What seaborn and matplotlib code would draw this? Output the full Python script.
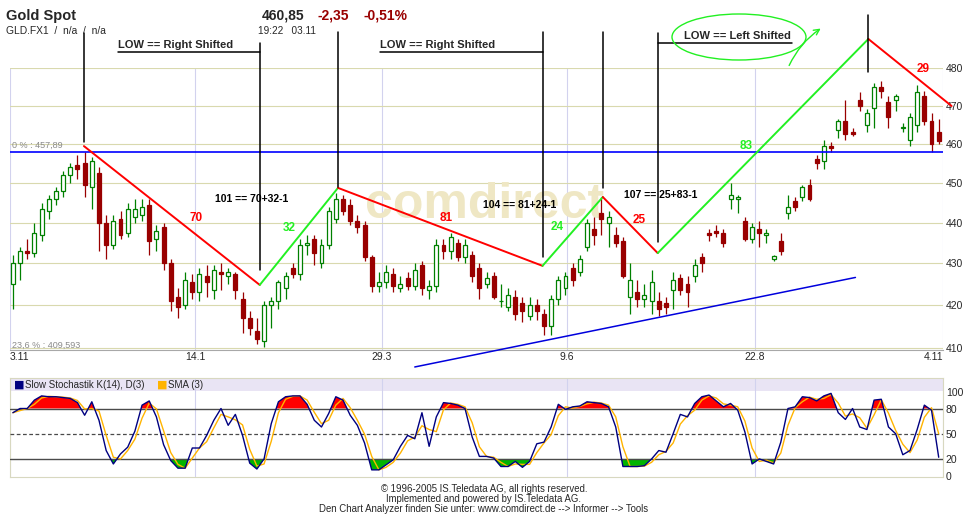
import numpy as np
import pandas as pd
import seaborn as sns
import matplotlib.pyplot as plt
from matplotlib.patches import Ellipse
from matplotlib.ticker import FixedLocator, FixedFormatter, NullLocator

sns.set_style("white")
plt.rcParams['font.family'] = ['Liberation Sans', 'DejaVu Sans']

# Gold Spot (GLD.FX1), 3.11.2004 - 4.11.2005, one candle ~ two trading days
opens = [425, 430, 433, 432.5, 437, 443, 446, 448, 452, 454.5,
         455, 449, 452.5, 440, 434.5, 441, 437.5, 441.5, 442, 444.5,
         436, 439, 430, 422, 420, 425.5, 423, 427, 423.5, 428,
         427, 427.5, 421.5, 417, 414, 411.5, 420, 421, 424, 429,
         427.5, 434.5, 436, 430, 434.5, 441, 446, 444.5, 440.5, 439.5,
         431.5, 424.5, 425.5, 427.5, 424, 426.5, 424.5, 429.5, 423.5, 424.5,
         434.5, 433, 435, 431.5, 432, 429, 425, 427, 421, 419.5,
         422, 420.5, 417.5, 420, 418, 415, 421.5, 424, 429, 428,
         434, 438.5, 442.5, 440, 437, 435.5, 422, 423, 421.5, 421,
         421, 420.5, 423.5, 426.5, 425, 427, 431.5, 437.5, 438, 437.5,
         446, 446, 440.5, 436, 438.5, 437, 431, 435.5, 442.5, 445.5,
         446.5, 449.5, 456, 455.5, 459.5, 463.5, 466, 463, 471.5, 465,
         469.5, 475, 471, 471.5, 464, 461, 465, 472.5, 466, 463]
highs = [432, 434, 436, 440, 445, 447, 449, 453, 455, 457,
         458, 456.5, 454, 442, 442, 443, 445, 446, 446, 446,
         439.5, 440, 431, 424, 428, 427.5, 429, 429.5, 429.5, 430,
         429, 428, 423, 418.5, 417, 421, 422, 426, 428, 430,
         436, 437, 437, 436, 444, 447.5, 447, 446, 442, 440.5,
         432, 428, 429.5, 429, 427, 428, 430, 430.5, 426, 436,
         436, 437.5, 436, 436, 433, 430, 428, 428, 425, 424,
         423.5, 422, 422, 421.5, 419, 422.5, 427, 428, 430, 432,
         441, 441.5, 446.5, 443, 439, 436.5, 430, 426, 425, 428.5,
         423, 422, 428, 427.5, 427, 431, 432.5, 438.5, 439.5, 438.5,
         450, 447, 441.5, 440, 440.5, 438.5, 432, 437.5, 447, 446.5,
         449.5, 451, 457, 461, 460.5, 466.5, 471.5, 464, 473.5, 469,
         476, 476.5, 472.5, 473, 465.5, 468, 475.5, 474, 468, 466.5]
lows = [419, 426, 431, 431.5, 435.5, 441, 444.5, 446.5, 450, 451,
        446.5, 443.5, 433, 431, 433.5, 436, 436.5, 440, 440.5, 432,
        433, 428.5, 418.5, 417, 419, 421.5, 421, 422, 421.5, 423.5,
        425, 421.5, 413.5, 413, 411, 410.2, 414.5, 419, 421.5, 426.5,
        426, 432, 429.5, 429, 433.5, 440, 442, 439.5, 437.5, 430.5,
        423, 423, 424, 423, 423, 423.5, 423.5, 422.5, 421.5, 423,
        431, 431, 430.5, 430, 425.5, 421.5, 424, 421.5, 419.5, 418.5,
        416.5, 416, 416.5, 416.5, 413, 413, 420, 422.5, 424.5, 427,
        433, 434.5, 437, 434, 434, 426.5, 418, 419.5, 419.5, 418,
        417.5, 418, 419, 422.5, 419.5, 425.5, 428, 435.5, 436.5, 434,
        443.5, 442.5, 435.5, 435, 434, 435, 430.5, 432, 441, 443,
        445.5, 445.5, 453.5, 453.5, 458, 461.5, 461, 462, 468.5, 463,
        464, 472, 464, 468.5, 463, 459.5, 463, 465, 458, 460]
closes = [430, 433, 432.5, 437.5, 443.5, 446, 448, 452, 454, 453.5,
          449.5, 455.5, 440, 434.5, 440.5, 437, 443.5, 443.5, 444, 435.5,
          438, 430, 421, 419.5, 426, 423, 427.5, 425.5, 428.5, 427.5,
          428, 423.5, 417, 414.5, 412, 420, 421, 425.5, 427, 427.5,
          434.5, 435, 432.5, 434.5, 443, 446, 443, 440.5, 439, 431.5,
          424.5, 425.5, 428, 424.5, 425, 424.5, 428.5, 424, 424.5, 434.5,
          433, 436.5, 431.5, 434.5, 427, 424, 426.5, 422, 421, 422.5,
          418, 418.5, 420, 418.5, 415, 421.5, 426, 427, 426, 431,
          440, 437, 441, 441.5, 435, 427, 426, 421.5, 422.5, 425.5,
          419, 419.5, 426, 423.5, 423, 429.5, 430, 437, 437.5, 435,
          447, 446.5, 436, 439, 437.5, 437.5, 431.8, 433, 444, 444,
          449, 446, 455, 459.5, 459, 466, 462.5, 462.5, 470, 468,
          475, 474, 467, 472.5, 464.5, 467, 473.5, 466, 460, 460.85]

# Slow Stochastik K(14)
stoch_k = [75, 80, 80, 90, 95, 94, 94, 93, 92, 87,
           72, 88, 66, 30, 14, 26, 34, 53, 84, 89,
           70, 37, 18, 9, 9, 33, 33, 48, 66, 80,
           60, 73, 48, 15, 8, 20, 62, 88, 94, 95,
           95, 85, 66, 58, 74, 94, 90, 72, 60, 39,
           7, 7, 13, 19, 35, 48, 44, 75, 35, 70,
           87, 86, 84, 80, 46, 23, 23, 21, 11, 11,
           17, 10, 17, 38, 40, 58, 85, 79, 82, 83,
           88, 87, 86, 82, 58, 11, 11, 11, 12, 20,
           30, 28, 50, 73, 70, 86, 94, 96, 89, 82,
           86, 78, 52, 14, 20, 17, 14, 40, 80, 82,
           94, 93, 89, 95, 98, 75, 67, 80, 58, 55,
           90, 91, 58, 50, 25, 30, 55, 84, 78, 22]

date_ticks = [-0.4, 25.4, 51.4, 77.2, 103.4, 129.6]
date_labels = ['3.11', '14.1', '29.3', '9.6', '22.8', '4.11']
price_ticks = [410, 420, 430, 440, 450, 460, 470, 480]
stoch_ticks = [0, 20, 50, 80, 100]

fib_0 = 457.89
fib_236 = 409.593

# hand drawn swing analysis: pivots (candle index, price) and swing lengths
pivot_x = [9.9, 34.4, 45.3, 73.8, 82.2, 89.85, 119.2, 130.8]
pivot_p = [459.4, 424.8, 448.7, 429.4, 446.4, 432.5, 488.0, 469.9]
swing_len = [70, 32, 81, 24, 25, 83, 29]
marker_top = [489.6, 486.9, 489.9, 489.9, 489.9, 489.6, 494.6]
marker_bottom = [460.5, 428.4, 448.9, 431.6, 448.7, 435.2, 479.0]

# support trendline
trend_x = [56.0, 117.4]
trend_p = [405.6, 426.6]

RED = '#ff0000'
LIME = '#22f022'
UP = '#008000'
DOWN = '#990000'


def fx(px):
    return px / 968


def fy(py):
    return 1 - py / 515


fig = plt.figure(figsize=(9.68, 5.15), dpi=100)
ax1 = fig.add_axes([fx(10), fy(350), 933 / 968, 281.7 / 515])
ax2 = fig.add_axes([fx(10), fy(477), 933 / 968, 99 / 515])

x = np.arange(len(closes))
o = np.array(opens, dtype=float)
h = np.array(highs, dtype=float)
l = np.array(lows, dtype=float)
c = np.array(closes, dtype=float)
up = c >= o

# --- price panel ---
ax1.set_yscale('log')
ax1.set_xlim(-0.4, 129.6)
ax1.set_ylim(409.5, 480)

ax1.text(65.7, 444.4, 'comdirect', fontsize=36, fontweight='bold',
         color='#efe7c4', ha='center', va='center', zorder=1)

ax1.vlines(x[up], l[up], h[up], color=UP, lw=0.9, zorder=3)
ax1.vlines(x[~up], l[~up], h[~up], color=DOWN, lw=0.9, zorder=3)
ax1.bar(x[up], c[up] - o[up], bottom=o[up], width=0.55, facecolor='white',
        edgecolor=UP, lw=0.9, zorder=4)
ax1.bar(x[~up], o[~up] - c[~up], bottom=c[~up], width=0.55, facecolor=DOWN,
        edgecolor=DOWN, lw=0.9, zorder=4)

ax1.axhline(fib_0, color='#0000ff', lw=1.2, zorder=5)
ax1.text(0.002, fib_0 + 0.6, '0 % : 457,89', transform=ax1.get_yaxis_transform(),
         fontsize=6.5, color='#8a8a8a', va='bottom', ha='left')
ax1.text(0.002, fib_236, '23,6 % : 409,593', transform=ax1.get_yaxis_transform(),
         fontsize=6.5, color='#8a8a8a', va='bottom', ha='left')

ax1.plot(trend_x, trend_p, color='#0000dd', lw=1.1, clip_on=False, zorder=5)

# zigzag swings
for k in range(len(pivot_x) - 1):
    col = RED if k % 2 == 0 else LIME
    ax1.plot(pivot_x[k:k + 2], pivot_p[k:k + 2], color=col, lw=1.4,
             clip_on=False, zorder=6, solid_capstyle='round')

# vertical markers at the pivots
for k in range(len(marker_top)):
    ax1.plot([pivot_x[k], pivot_x[k]], [marker_top[k], marker_bottom[k]],
             color='black', lw=1.1, clip_on=False, zorder=7)

# swing length labels
swing_pos = [(25.5, 441.2), (38.5, 438.7), (60.4, 441.2), (75.9, 438.8),
             (87.3, 440.7), (102.2, 459.4), (126.8, 479.7)]
for k, (sx, sy) in enumerate(swing_pos):
    ax1.text(sx, sy, str(swing_len[k]), color=RED if k % 2 == 0 else LIME,
             fontsize=8.5, fontweight='bold', ha='center', va='center',
             zorder=8, clip_on=False)

sum_pos = [(28.2, 445.9), (65.5, 444.3), (85.1, 446.9)]
for k, (sx, sy) in enumerate(sum_pos):
    a, b = swing_len[2 * k], swing_len[2 * k + 1]
    ax1.text(sx, sy, f'{a + b - 1} == {a}+{b}-1', color='black', fontsize=7.5,
             fontweight='bold', ha='left', va='center', zorder=8)

# underlined notes
ax1.plot([14.6, 34.4], [484.4, 484.4], color='black', lw=1.1, clip_on=False)
ax1.plot([51.1, 73.8], [484.4, 484.4], color='black', lw=1.1, clip_on=False)
ax1.plot([89.85, 108.5], [486.9, 486.9], color='black', lw=1.1, clip_on=False)
ax1.text(14.6, 485.0, 'LOW == Right Shifted', fontsize=8, fontweight='bold',
         ha='left', va='bottom', clip_on=False)
ax1.text(51.1, 485.0, 'LOW == Right Shifted', fontsize=8, fontweight='bold',
         ha='left', va='bottom', clip_on=False)
ax1.text(93.5, 487.4, 'LOW == Left Shifted', fontsize=8, fontweight='bold',
         ha='left', va='bottom', clip_on=False)

ax1.yaxis.tick_right()
ax1.yaxis.set_major_locator(FixedLocator(price_ticks))
ax1.yaxis.set_major_formatter(FixedFormatter([str(t) for t in price_ticks]))
ax1.yaxis.set_minor_locator(NullLocator())
ax1.set_xticks(date_ticks, date_labels)
ax1.tick_params(axis='both', length=0, labelsize=7.5)
ax1.tick_params(axis='y', pad=2)
ax1.tick_params(axis='x', pad=1.5)
lbls = ax1.get_xticklabels()
lbls[0].set_ha('left')
lbls[-1].set_ha('right')
ax1.grid(axis='y', color='#d9d9ae', lw=0.8)
ax1.grid(axis='x', color='#d2d2ee', lw=0.8)
ax1.set_axisbelow(True)
for s in ax1.spines.values():
    s.set_visible(False)
ax1.spines['bottom'].set_visible(True)
ax1.spines['bottom'].set_color('#a8a8a8')

# --- stochastic panel ---
k_ser = pd.Series(stoch_k, dtype=float)
stoch = pd.DataFrame({'x': x, 'k': k_ser,
                      'd': k_ser.rolling(2, min_periods=1).mean()})

ax2.set_xlim(-0.4, 129.6)
ax2.set_ylim(-1.5, 116.3)
ax2.axhspan(101, 116.3, color='#e9e4f4', lw=0, zorder=0)
kv = stoch['k'].to_numpy()
ax2.fill_between(x, 80, kv, where=kv >= 80, interpolate=True, color=RED, lw=0, zorder=2)
ax2.fill_between(x, 20, kv, where=kv <= 20, interpolate=True, color='#00b400', lw=0, zorder=2)
for lvl in (80, 20):
    ax2.axhline(lvl, color='#4a4a4a', lw=1, zorder=3)
ax2.axhline(50, color='#4a4a4a', lw=0.9, ls=(0, (3, 2)), zorder=3)
sns.lineplot(data=stoch, x='x', y='d', color='#ffb400', lw=1, ax=ax2, zorder=4)
sns.lineplot(data=stoch, x='x', y='k', color='#000080', lw=1, ax=ax2, zorder=5)
ax2.set_xlabel('')
ax2.set_ylabel('')
ax2.set_xticks(date_ticks)
ax2.yaxis.tick_right()
ax2.set_yticks(stoch_ticks)
ax2.tick_params(axis='both', length=0, labelsize=7.5)
ax2.tick_params(axis='y', pad=2)
ax2.tick_params(axis='x', labelbottom=False)
ax2.grid(axis='x', color='#d2d2ee', lw=0.8)
ax2.grid(axis='y', visible=False)
for s in ax2.spines.values():
    s.set_color('#d8d8c0')
    s.set_linewidth(0.8)

fig.text(fx(14), fy(385), '\u25a0', color='#000080', fontsize=8, va='center',
         family='DejaVu Sans')
fig.text(fx(25), fy(385), 'Slow Stochastik K(14), D(3)', fontsize=7, va='center')
fig.text(fx(157), fy(385), '\u25a0', color='#ffb400', fontsize=8, va='center',
         family='DejaVu Sans')
fig.text(fx(168), fy(385), 'SMA (3)', fontsize=7, va='center')

# --- header ---
fig.text(fx(6), fy(20), 'Gold Spot', fontsize=10.5, fontweight='bold', va='baseline')
fig.text(fx(6), fy(34.5), 'GLD.FX1  /  n/a  /  n/a', fontsize=7.4, va='baseline')
fig.text(fx(262), fy(20), '460,85', fontsize=10, fontweight='bold', va='baseline')
fig.text(fx(318), fy(20), '-2,35', fontsize=10, fontweight='bold', va='baseline',
         color='#990000')
fig.text(fx(363), fy(20), '-0,51%', fontsize=10, fontweight='bold', va='baseline',
         color='#990000')
fig.text(fx(258), fy(34.5), '19:22   03.11', fontsize=7.2, va='baseline')

# hand drawn highlight around the third note
fig.add_artist(Ellipse((fx(739), fy(37)), 134 / 968, 46 / 515,
                       transform=fig.transFigure, fill=False, edgecolor=LIME, lw=1))
plt.annotate('', xy=(fx(823), fy(27)), xytext=(fx(788), fy(68)),
             xycoords='figure fraction', textcoords='figure fraction',
             arrowprops=dict(arrowstyle='->', color=LIME, lw=1,
                             connectionstyle='arc3,rad=-0.15'))

# --- footer ---
fig.text(0.5, fy(489), '\u00a9 1996-2005 IS.Teledata AG, all rights reserved.',
         fontsize=6.9, ha='center', va='center')
fig.text(0.5, fy(499), 'Implemented and powered by IS.Teledata AG.',
         fontsize=6.9, ha='center', va='center')
fig.text(0.5, fy(509.5),
         'Den Chart Analyzer finden Sie unter: www.comdirect.de --> Informer --> Tools',
         fontsize=6.9, ha='center', va='center')

fig.savefig('out.png', dpi=100)
